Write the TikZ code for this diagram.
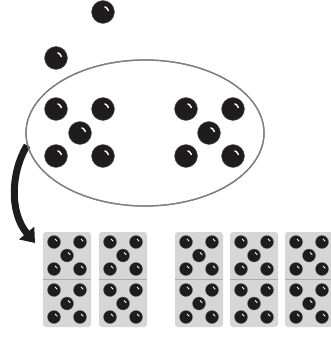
\documentclass[tikz,border=0pt]{standalone}
\usetikzlibrary{shapes.geometric,arrows.meta}
\definecolor{ballc}{HTML}{1E1C1C}
\definecolor{domc}{HTML}{D6D6D6}
\definecolor{ringc}{HTML}{808080}
\begin{document}
\begin{tikzpicture}[x=1pt,y=-1pt,
  bigball/.style={circle,fill=ballc,draw=ballc!70,line width=0.4pt,inner sep=0pt,minimum size=23pt,
    path picture={\draw[white,line width=1.4pt,line cap=round]
      ([shift={(15:5.5pt)}]path picture bounding box.center) arc[start angle=15,end angle=70,radius=5.5pt];}},
  pipball/.style={circle,fill=ballc,draw=ballc!70,line width=0.3pt,inner sep=0pt,minimum size=13pt,
    path picture={\draw[white,line width=0.9pt,line cap=round]
      ([shift={(15:3.2pt)}]path picture bounding box.center) arc[start angle=15,end angle=70,radius=3.2pt];}},
  dombox/.style={rectangle,rounded corners=3pt,fill=domc,minimum width=48pt,minimum height=95pt,inner sep=0pt},
  ringshape/.style={ellipse,draw=ringc,line width=1.3pt,minimum width=238pt,minimum height=146pt,inner sep=0pt},
  bigarrow/.style={line width=7pt,draw=ballc,-{Triangle[length=13pt,width=19pt]}}
]
\useasboundingbox (0,0) rectangle (331,337);

% arrow (under the ring)
\node[ringshape] (set) at (145,133) {};
\coordinate (tip) at (35,243);
\draw[bigarrow] (set.186) .. controls (11,172) and (9,212) .. (tip);
\node[ringshape] at (145,133) {};

% loose balls
\node[bigball] (b1) at (103,12) {};
\node[bigball] (b2) at (56,58) {};

% two fives inside the ring
\node[bigball] (b3) at (56,109) {};
\node[bigball] (b4) at (103,109) {};
\node[bigball] (b5) at (80,133) {};
\node[bigball] (b6) at (56,156) {};
\node[bigball] (b7) at (103,156) {};
\node[bigball] (b8) at (186,109) {};
\node[bigball] (b9) at (233,109) {};
\node[bigball] (b10) at (209,133) {};
\node[bigball] (b11) at (186,156) {};
\node[bigball] (b12) at (233,156) {};

% dominoes
\foreach \i/\x in {1/67,2/123,3/199,4/254,5/309}{
  \node[dombox] (d\i) at (\x,279.5) {};
  \draw[domc!80!black,line width=0.8pt] (d\i.west) -- (d\i.east);
  \foreach \s/\h in {t/-1,b/1}{
    \node[pipball] (d\i\s1) at ([shift={(-13pt,-37.5pt*\h)}]d\i.center) {};
    \node[pipball] (d\i\s2) at ([shift={(13pt,-37.5pt*\h)}]d\i.center) {};
    \node[pipball] (d\i\s3) at ([shift={(0pt,-24pt*\h)}]d\i.center) {};
    \node[pipball] (d\i\s4) at ([shift={(-13pt,-10.5pt*\h)}]d\i.center) {};
    \node[pipball] (d\i\s5) at ([shift={(13pt,-10.5pt*\h)}]d\i.center) {};
  }
}
\end{tikzpicture}
\end{document}
